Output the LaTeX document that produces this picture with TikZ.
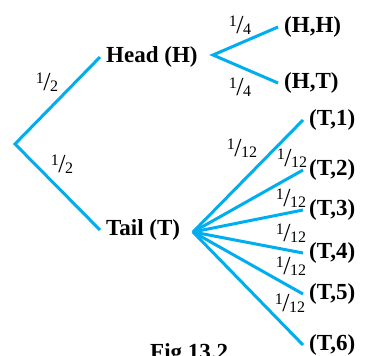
\documentclass[tikz,border=0pt]{standalone}
\usepackage{fontspec}
\setmainfont{Liberation Serif}
\usepackage{tikz}

\definecolor{branch}{RGB}{0,174,239}
\newcommand{\pfrac}[2]{{\fontsize{16}{16}\selectfont\raisebox{7pt}{#1}}\kern-0.5pt{\fontsize{26}{26}\selectfont/}\kern-0.5pt{\fontsize{16}{16}\selectfont\raisebox{-1pt}{#2}}}

\begin{document}
\begin{tikzpicture}[x=1pt,y=-1pt,
    br/.style={branch, line width=3pt},
    lbl/.style={font=\fontsize{23}{23}\selectfont\bfseries, anchor=west, inner xsep=6pt, inner ysep=0pt},
    prob/.style={inner sep=0pt}]
    \useasboundingbox (0,0) rectangle (365,356);

    % first toss
    \coordinate (root) at (15,144);
    \node[lbl] (head) at (100,57) {Head (H)};
    \node[lbl] (tail) at (100,230) {Tail (T)};
    \draw[br] (head.west) -- (root) -- (tail.west);

    \node[prob] (pa) at (47,82) {\pfrac{1}{2}};
    \node[prob] (pb) at (62,164) {\pfrac{1}{2}};

    % second toss after head
    \coordinate (hfork) at (213,55);
    \node[lbl] (hh) at (278,27) {(H,H)};
    \node[lbl] (ht) at (278,83) {(H,T)};
    \draw[br] (hh.west) -- (hfork) -- (ht.west);

    \node[prob] (pc) at (240,25) {\pfrac{1}{4}};
    \node[prob] (pd) at (240,87) {\pfrac{1}{4}};

    % die after tail
    \coordinate (tfork) at (193,232);
    \node[lbl] (t1) at (303,120) {(T,1)};
    \node[lbl] (t2) at (303,170) {(T,2)};
    \node[lbl] (t3) at (303,210) {(T,3)};
    \node[lbl] (t4) at (303,253) {(T,4)};
    \node[lbl] (t5) at (303,294) {(T,5)};
    \node[lbl] (t6) at (303,345) {(T,6)};
    \foreach \n in {t1,t2,t3,t4,t5,t6}
        \draw[br] (tfork) -- (\n.west);

    \node[prob] (q1) at (242,148) {\pfrac{1}{12}};
    \node[prob] (q2) at (292,158) {\pfrac{1}{12}};
    \node[prob] (q3) at (291,198) {\pfrac{1}{12}};
    \node[prob] (q4) at (291,233) {\pfrac{1}{12}};
    \node[prob] (q5) at (291,266) {\pfrac{1}{12}};
    \node[prob] (q6) at (290,303) {\pfrac{1}{12}};

    \node[lbl, anchor=north west, inner xsep=0pt] (cap) at (150,343) {Fig 13.2};
\end{tikzpicture}
\end{document}
